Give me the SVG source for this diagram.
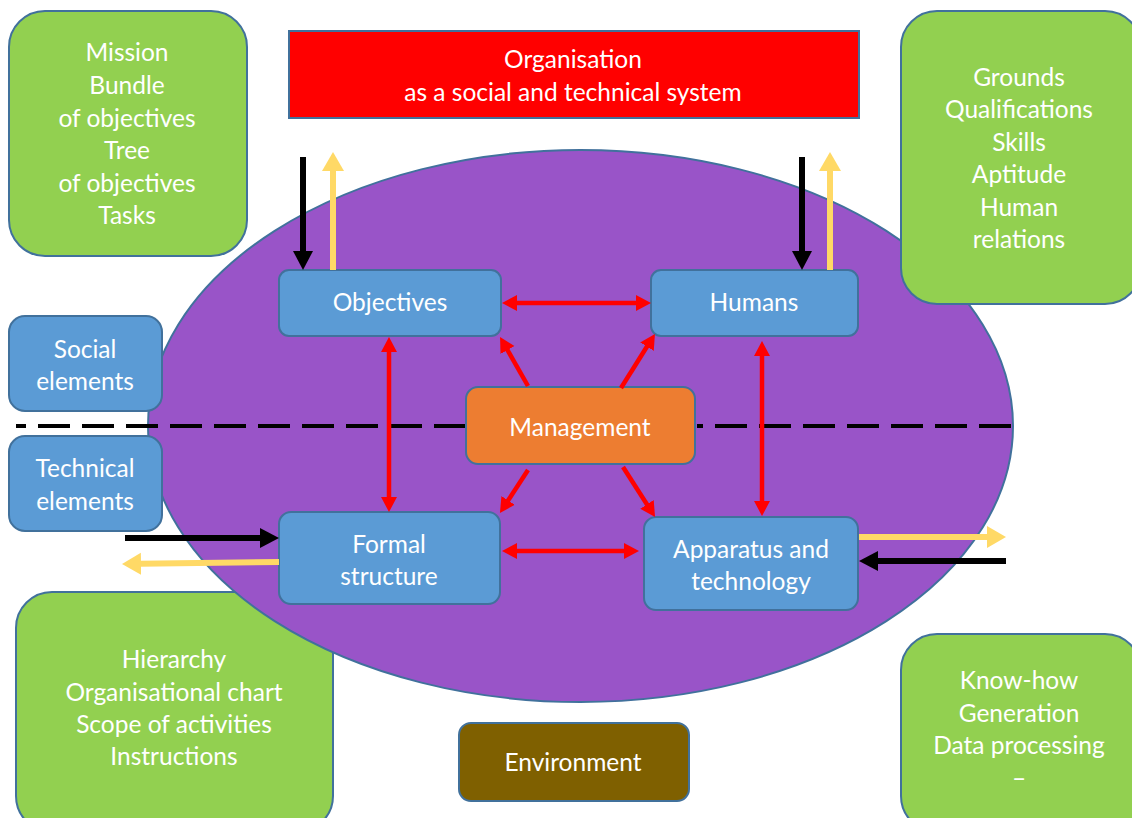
<svg xmlns="http://www.w3.org/2000/svg" width="1132" height="818" viewBox="0 0 1132 818">
  <style>
    .green { fill: #92D050; stroke: #41719C; stroke-width: 2; }
    .blue { fill: #5B9BD5; stroke: #41719C; stroke-width: 2; }
    .label { font-family: Lato, "Liberation Sans", sans-serif; font-size: 24.5px; fill: #FFFFFF; text-anchor: middle; }
    .red-link { stroke: #FF0000; stroke-width: 4.5; fill: none; }
    .black-link { stroke: #000000; stroke-width: 6; fill: none; }
    .yellow-link { stroke: #FFD966; stroke-width: 6; fill: none; }
  </style>
  <defs>
    <marker id="head-red" markerUnits="userSpaceOnUse" markerWidth="18" markerHeight="20" refX="1" refY="0" viewBox="0 -10 18 20" orient="auto-start-reverse">
      <path d="M0,-8 L15,0 L0,8 z" fill="#FF0000"/>
    </marker>
    <marker id="head-black" markerUnits="userSpaceOnUse" markerWidth="22" markerHeight="24" refX="1" refY="0" viewBox="0 -12 22 24" orient="auto">
      <path d="M0,-10 L19,0 L0,10 z" fill="#000000"/>
    </marker>
    <marker id="head-yellow" markerUnits="userSpaceOnUse" markerWidth="22" markerHeight="24" refX="1" refY="0" viewBox="0 -12 22 24" orient="auto">
      <path d="M0,-11 L19,0 L0,11 z" fill="#FFD966"/>
    </marker>
  </defs>

  <rect width="1132" height="818" fill="#FFFFFF"/>

  <!-- structure details, drawn beneath the system ellipse -->
  <g id="structure-details">
    <rect class="green" x="16" y="592" width="317" height="240" rx="36"/>
    <text class="label" x="174" y="668">Hierarchy</text>
    <text class="label" x="174" y="701">Organisational chart</text>
    <text class="label" x="174" y="733">Scope of activities</text>
    <text class="label" x="174" y="765">Instructions</text>
  </g>

  <!-- the organisation as a whole -->
  <g id="system">
    <ellipse cx="580.5" cy="426" rx="432.5" ry="276" fill="#9954C8" stroke="#41719C" stroke-width="2"/>
  </g>

  <!-- divider between social and technical elements -->
  <g id="divider" stroke="#000000" stroke-width="4" stroke-dasharray="32 12">
    <line x1="16" y1="426" x2="466" y2="426" stroke-dashoffset="22"/>
    <line x1="697" y1="426" x2="1013" y2="426" stroke-dashoffset="26"/>
  </g>

  <g id="organisation">
    <rect x="289" y="31" width="570" height="87" fill="#FF0000" stroke="#41719C" stroke-width="2"/>
    <text class="label" x="573" y="68">Organisation</text>
    <text class="label" x="573" y="101">as a social and technical system</text>
  </g>

  <g id="objective-details">
    <rect class="green" x="9" y="11" width="238" height="245" rx="36"/>
    <text class="label" x="127" y="61">Mission</text>
    <text class="label" x="127" y="94">Bundle</text>
    <text class="label" x="127" y="127">of objectives</text>
    <text class="label" x="127" y="159">Tree</text>
    <text class="label" x="127" y="192">of objectives</text>
    <text class="label" x="127" y="224">Tasks</text>
  </g>

  <g id="human-details">
    <rect class="green" x="901" y="11" width="240" height="293" rx="36"/>
    <text class="label" x="1019" y="86">Grounds</text>
    <text class="label" x="1019" y="118">Qualifications</text>
    <text class="label" x="1019" y="151">Skills</text>
    <text class="label" x="1019" y="183">Aptitude</text>
    <text class="label" x="1019" y="216">Human</text>
    <text class="label" x="1019" y="248">relations</text>
  </g>

  <g id="technology-details">
    <rect class="green" x="901" y="634" width="240" height="198" rx="36"/>
    <text class="label" x="1019" y="689">Know-how</text>
    <text class="label" x="1019" y="722">Generation</text>
    <text class="label" x="1019" y="754">Data processing</text>
    <text class="label" x="1019" y="787">–</text>
  </g>

  <g id="social-elements">
    <rect class="blue" x="9" y="316" width="153" height="95" rx="16"/>
    <text class="label" x="85" y="358">Social</text>
    <text class="label" x="85" y="390">elements</text>
  </g>

  <g id="technical-elements">
    <rect class="blue" x="9" y="436" width="153" height="95" rx="16"/>
    <text class="label" x="85" y="477">Technical</text>
    <text class="label" x="85" y="510">elements</text>
  </g>

  <g id="objectives">
    <rect class="blue" x="279" y="270" width="222" height="66" rx="10"/>
    <text class="label" x="390" y="311">Objectives</text>
  </g>

  <g id="humans">
    <rect class="blue" x="651" y="270" width="207" height="66" rx="10"/>
    <text class="label" x="754" y="311">Humans</text>
  </g>

  <g id="management">
    <rect x="466" y="387" width="229" height="77" rx="12" fill="#ED7D31" stroke="#41719C" stroke-width="2"/>
    <text class="label" x="580" y="436">Management</text>
  </g>

  <g id="formal-structure">
    <rect class="blue" x="279" y="512" width="221" height="92" rx="12"/>
    <text class="label" x="389" y="553">Formal</text>
    <text class="label" x="389" y="585">structure</text>
  </g>

  <g id="apparatus-technology">
    <rect class="blue" x="644" y="517" width="214" height="93" rx="12"/>
    <text class="label" x="751" y="558">Apparatus and</text>
    <text class="label" x="751" y="590">technology</text>
  </g>

  <g id="environment">
    <rect x="459" y="723" width="230" height="78" rx="12" fill="#7F6000" stroke="#41719C" stroke-width="2"/>
    <text class="label" x="573" y="771">Environment</text>
  </g>

  <!-- connectors -->
  <g id="connectors">
    <line class="red-link" x1="516" y1="303" x2="637" y2="303" marker-start="url(#head-red)" marker-end="url(#head-red)"/>
    <line class="red-link" x1="389" y1="351" x2="389" y2="498" marker-start="url(#head-red)" marker-end="url(#head-red)"/>
    <line class="red-link" x1="762" y1="355" x2="762" y2="502" marker-start="url(#head-red)" marker-end="url(#head-red)"/>
    <line class="red-link" x1="516" y1="551" x2="625" y2="551" marker-start="url(#head-red)" marker-end="url(#head-red)"/>
    <line class="red-link" x1="528" y1="386" x2="507" y2="349.2" marker-end="url(#head-red)"/>
    <line class="red-link" x1="621" y1="388" x2="647.5" y2="345.8" marker-end="url(#head-red)"/>
    <line class="red-link" x1="528" y1="470" x2="507.6" y2="501.3" marker-end="url(#head-red)"/>
    <line class="red-link" x1="623" y1="467" x2="647.5" y2="505.2" marker-end="url(#head-red)"/>

    <line class="black-link" x1="303" y1="157" x2="303" y2="252" marker-end="url(#head-black)"/>
    <line class="yellow-link" x1="333" y1="270" x2="333" y2="170" marker-end="url(#head-yellow)"/>
    <line class="black-link" x1="802" y1="157" x2="802" y2="252" marker-end="url(#head-black)"/>
    <line class="yellow-link" x1="830" y1="270" x2="830" y2="170" marker-end="url(#head-yellow)"/>

    <line class="black-link" x1="125" y1="538" x2="261" y2="538" marker-end="url(#head-black)"/>
    <line class="yellow-link" x1="279" y1="562" x2="140" y2="563.8" marker-end="url(#head-yellow)"/>
    <line class="yellow-link" x1="859" y1="537" x2="988" y2="537" marker-end="url(#head-yellow)"/>
    <line class="black-link" x1="1006" y1="561" x2="877" y2="561" marker-end="url(#head-black)"/>
  </g>
</svg>
